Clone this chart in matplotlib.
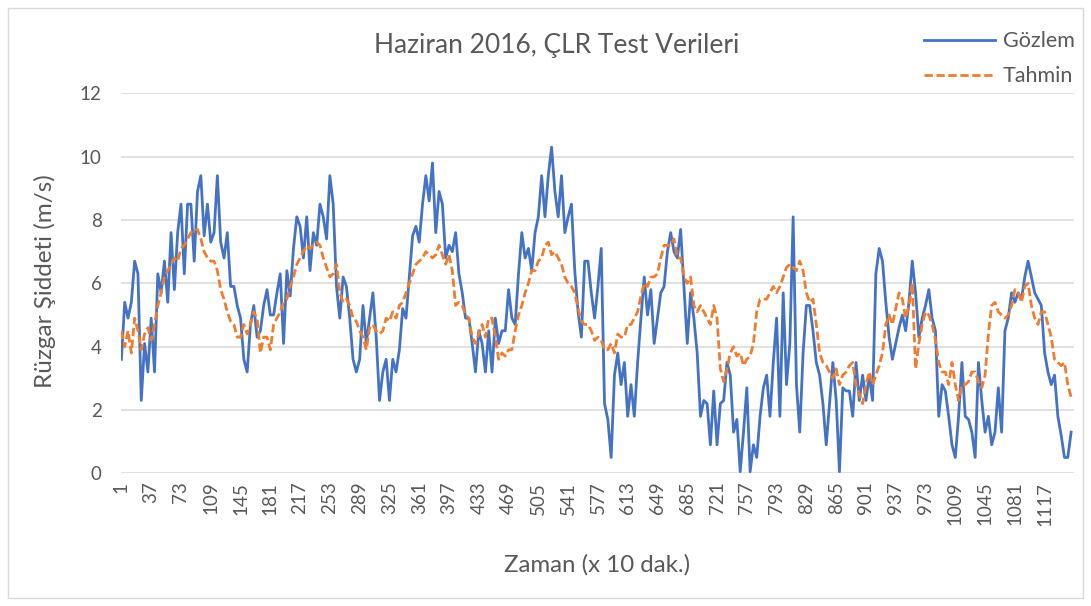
import numpy as np
import matplotlib
matplotlib.use("Agg")
import matplotlib.pyplot as plt
from matplotlib.patches import Rectangle

plt.rcParams['font.family'] = ['Lato', 'DejaVu Sans']

# Observed ("Gözlem") wind speed, one value every 4 time steps (m/s)
gozlem = [
    3.6, 5.4, 4.9, 5.4, 6.7, 6.3, 2.3, 4.1, 3.2, 4.9, 3.2, 6.3, 5.7, 6.7, 5.4, 7.6, 5.8, 7.6, 8.5, 6.3, 8.5, 8.5, 6.7, 8.9, 9.4, 7.5,
    8.5, 7.3, 7.6, 9.4, 7.3, 6.8, 7.6, 5.9, 5.9, 5.3, 4.9, 3.6, 3.2, 4.7, 5.3, 4.3, 4.5, 5.3, 5.8, 5.0, 5.0, 5.7, 6.3, 4.1, 6.4, 5.6, 7.1, 8.1,
    7.8, 6.8, 8.1, 6.4, 7.6, 7.2, 8.5, 8.1, 7.4, 9.4, 8.5, 5.9, 4.9, 6.2, 5.9, 4.9, 3.6, 3.2, 3.6, 5.3, 4.1, 4.9, 5.7, 4.3, 2.3, 3.2, 3.6, 2.3, 3.6,
    3.2, 3.9, 5.2, 4.9, 6.2, 7.5, 7.8, 7.3, 8.5, 9.4, 8.6, 9.8, 7.6, 8.9, 8.5, 6.8, 7.2, 7.0, 7.6, 6.3, 5.7, 4.9, 4.9, 4.1, 3.2, 4.5, 4.1, 3.2, 4.5,
    3.2, 4.9, 4.1, 4.5, 4.5, 5.8, 4.9, 4.7, 6.3, 7.6, 6.8, 7.1, 6.4, 7.6, 8.1, 9.4, 8.1, 9.4, 10.3, 8.9, 8.1, 9.4, 7.6, 8.1, 8.5, 6.4, 5.1, 4.3, 6.7,
    6.7, 5.7, 4.9, 5.9, 7.1, 2.2, 1.7, 0.5, 3.1, 3.8, 2.8, 3.5, 1.8, 2.8, 1.8, 3.5, 4.9, 6.2, 5.0, 5.8, 4.1, 4.9, 5.7, 5.9, 7.0, 7.6, 7.0, 6.8,
    7.7, 5.9, 4.1, 5.7, 4.9, 3.8, 1.8, 2.3, 2.2, 0.9, 2.6, 0.9, 2.2, 2.3, 3.5, 3.1, 1.3, 1.7, 0.05, 1.3, 2.7, 0.05, 0.9, 0.5, 1.8, 2.7, 3.1, 1.8, 3.5,
    4.9, 1.8, 5.7, 2.8, 4.1, 8.1, 2.8, 1.3, 3.8, 5.3, 5.3, 4.5, 3.5, 3.1, 2.2, 0.9, 2.2, 3.5, 2.3, 0.05, 2.7, 2.6, 2.6, 1.8, 3.5, 2.3, 3.1, 2.3, 3.1,
    2.3, 6.3, 7.1, 6.7, 5.4, 4.3, 3.6, 4.1, 4.6, 5.0, 4.5, 5.4, 6.7, 5.7, 4.3, 4.9, 5.3, 5.8, 4.9, 4.5, 1.8, 2.8, 2.6, 1.8, 0.9, 0.5, 1.8, 3.5,
    1.8, 1.7, 1.3, 0.5, 3.5, 2.3, 1.3, 1.8, 0.9, 1.3, 2.7, 1.3, 4.5, 4.9, 5.7, 5.4, 5.7, 5.5, 6.2, 6.7, 6.2, 5.7, 5.5, 5.3, 3.8, 3.2, 2.8, 3.1, 1.8,
    1.2, 0.5, 0.5, 1.3,
]

# Predicted ("Tahmin") wind speed, same time steps (m/s)
tahmin = [
    4.5, 4.0, 4.5, 3.8, 4.9, 4.5, 3.9, 4.4, 4.6, 4.2, 4.7, 5.3, 5.7, 6.2, 6.4, 6.6, 6.8, 6.7, 7.1, 7.2, 7.4, 7.6, 7.7, 7.7, 7.4, 7.0,
    6.8, 6.7, 6.7, 6.4, 5.8, 5.5, 5.1, 4.8, 4.7, 4.3, 4.3, 4.7, 4.4, 4.7, 5.1, 4.9, 3.8, 4.3, 4.3, 3.9, 4.7, 4.9, 5.1, 5.4, 5.5, 5.9, 6.2, 6.6,
    6.8, 7.0, 7.2, 7.1, 7.2, 7.3, 7.2, 6.8, 6.5, 6.2, 6.3, 6.6, 5.7, 5.4, 5.5, 5.3, 4.9, 4.8, 4.5, 4.3, 3.9, 4.6, 4.7, 4.5, 4.4, 4.5, 4.9, 4.8, 5.1,
    4.9, 5.3, 5.4, 5.7, 6.0, 6.3, 6.6, 6.7, 6.8, 7.0, 6.9, 6.8, 6.9, 7.2, 6.9, 6.6, 6.9, 6.4, 5.3, 5.4, 5.3, 5.0, 4.9, 4.3, 4.1, 4.4, 4.7, 4.3, 4.9,
    4.9, 4.3, 3.6, 3.8, 3.7, 3.9, 3.9, 4.5, 5.0, 5.3, 5.7, 6.0, 6.4, 6.4, 6.7, 6.8, 7.2, 7.3, 6.9, 7.0, 6.8, 6.6, 6.2, 6.0, 5.9, 5.7, 5.2, 4.8, 4.7,
    4.7, 4.5, 4.2, 4.3, 4.2, 3.9, 3.9, 4.1, 3.8, 4.4, 4.3, 4.3, 4.7, 4.7, 4.9, 5.1, 5.6, 6.0, 5.9, 6.2, 6.2, 6.3, 6.8, 7.2, 7.2, 7.2, 7.4, 6.8,
    6.8, 6.2, 6.0, 6.2, 5.3, 5.1, 5.3, 5.1, 4.9, 4.7, 5.3, 4.9, 3.3, 2.9, 3.3, 3.8, 4.0, 3.7, 3.8, 3.4, 3.6, 3.7, 4.1, 5.1, 5.5, 5.5, 5.5, 5.7, 5.9,
    5.7, 5.9, 6.2, 6.5, 6.6, 6.5, 6.4, 6.7, 6.4, 5.7, 5.4, 5.5, 4.7, 3.8, 3.5, 3.4, 3.2, 3.0, 3.3, 2.8, 3.1, 3.2, 3.4, 3.5, 2.8, 2.5, 2.2, 2.8, 3.2,
    2.8, 3.1, 3.4, 3.8, 4.7, 5.0, 4.7, 5.2, 5.7, 5.5, 4.9, 5.3, 6.0, 3.3, 4.1, 4.7, 5.1, 5.0, 4.7, 4.2, 3.5, 3.2, 3.2, 2.8, 3.5, 2.8, 2.3, 2.8,
    2.8, 2.9, 3.2, 3.2, 2.9, 2.7, 3.1, 4.4, 5.3, 5.4, 5.1, 5.0, 4.9, 5.0, 5.3, 5.8, 5.7, 5.4, 5.9, 6.0, 5.3, 4.9, 4.7, 5.1, 5.1, 4.7, 4.3, 3.6, 3.5,
    3.4, 3.5, 2.8, 2.4,
]

step = 4
zaman = np.arange(len(gozlem)) * step + 1
n_cat = len(gozlem) * step
xtick_vals = list(range(1, n_cat - 30, 36))
yticks = [0, 2, 4, 6, 8, 10, 12]

title = "Haziran 2016, ÇLR Test Verileri"
xlabel = "Zaman (x 10 dak.)"
ylabel = "Rüzgar Şiddeti (m/s)"

W, H = 1091, 606
fig = plt.figure(figsize=(W / 100, H / 100), dpi=100)
ax = fig.add_axes([121 / W, 1 - 473.3 / H, (1074 - 121) / W, (473.3 - 93.3) / H])

txt = "#595959"
ax.plot(zaman, gozlem, color="#4472C4", lw=2.0, label="Gözlem", zorder=3)
ax.plot(zaman, tahmin, color="#ED7D31", lw=2.0, dashes=[3.0, 1.3], label="Tahmin", zorder=4)

ax.set_xlim(0.5, n_cat + 0.5)
ax.set_ylim(0, 12)
ax.set_yticks(yticks)
ax.set_xticks(xtick_vals)
ax.set_xticklabels([str(v) for v in xtick_vals], rotation=90)
ax.grid(axis="y", color="#d9d9d9", lw=1.1)
ax.set_axisbelow(True)
for s in ax.spines.values():
    s.set_visible(False)
ax.tick_params(axis="both", length=0, colors=txt, labelsize=13.5)
ax.tick_params(axis="y", pad=14)
ax.tick_params(axis="x", pad=6)

fig.text(557 / W, 1 - 45 / H, title, ha="center", va="center", fontsize=19, color=txt)
fig.text(597 / W, 1 - 565 / H, xlabel, ha="center", va="center", fontsize=17.3, color=txt)
fig.text(45 / W, 1 - 281 / H, ylabel, ha="center", va="center", fontsize=17.5, color=txt, rotation=90)

leg = ax.legend(loc="upper right", bbox_to_anchor=(1094 / W, 1 - 12 / H), bbox_transform=fig.transFigure,
                frameon=False, fontsize=15.5, handlelength=3.3, handletextpad=0.35, labelspacing=0.7)
for t in leg.get_texts():
    t.set_color(txt)

fig.patches.append(Rectangle((8 / W, 8 / H), (1083 - 8) / W, (598 - 8) / H, transform=fig.transFigure,
                             fill=False, edgecolor="#d9d9d9", lw=1))

fig.savefig("out.png", dpi=100, facecolor="white")
